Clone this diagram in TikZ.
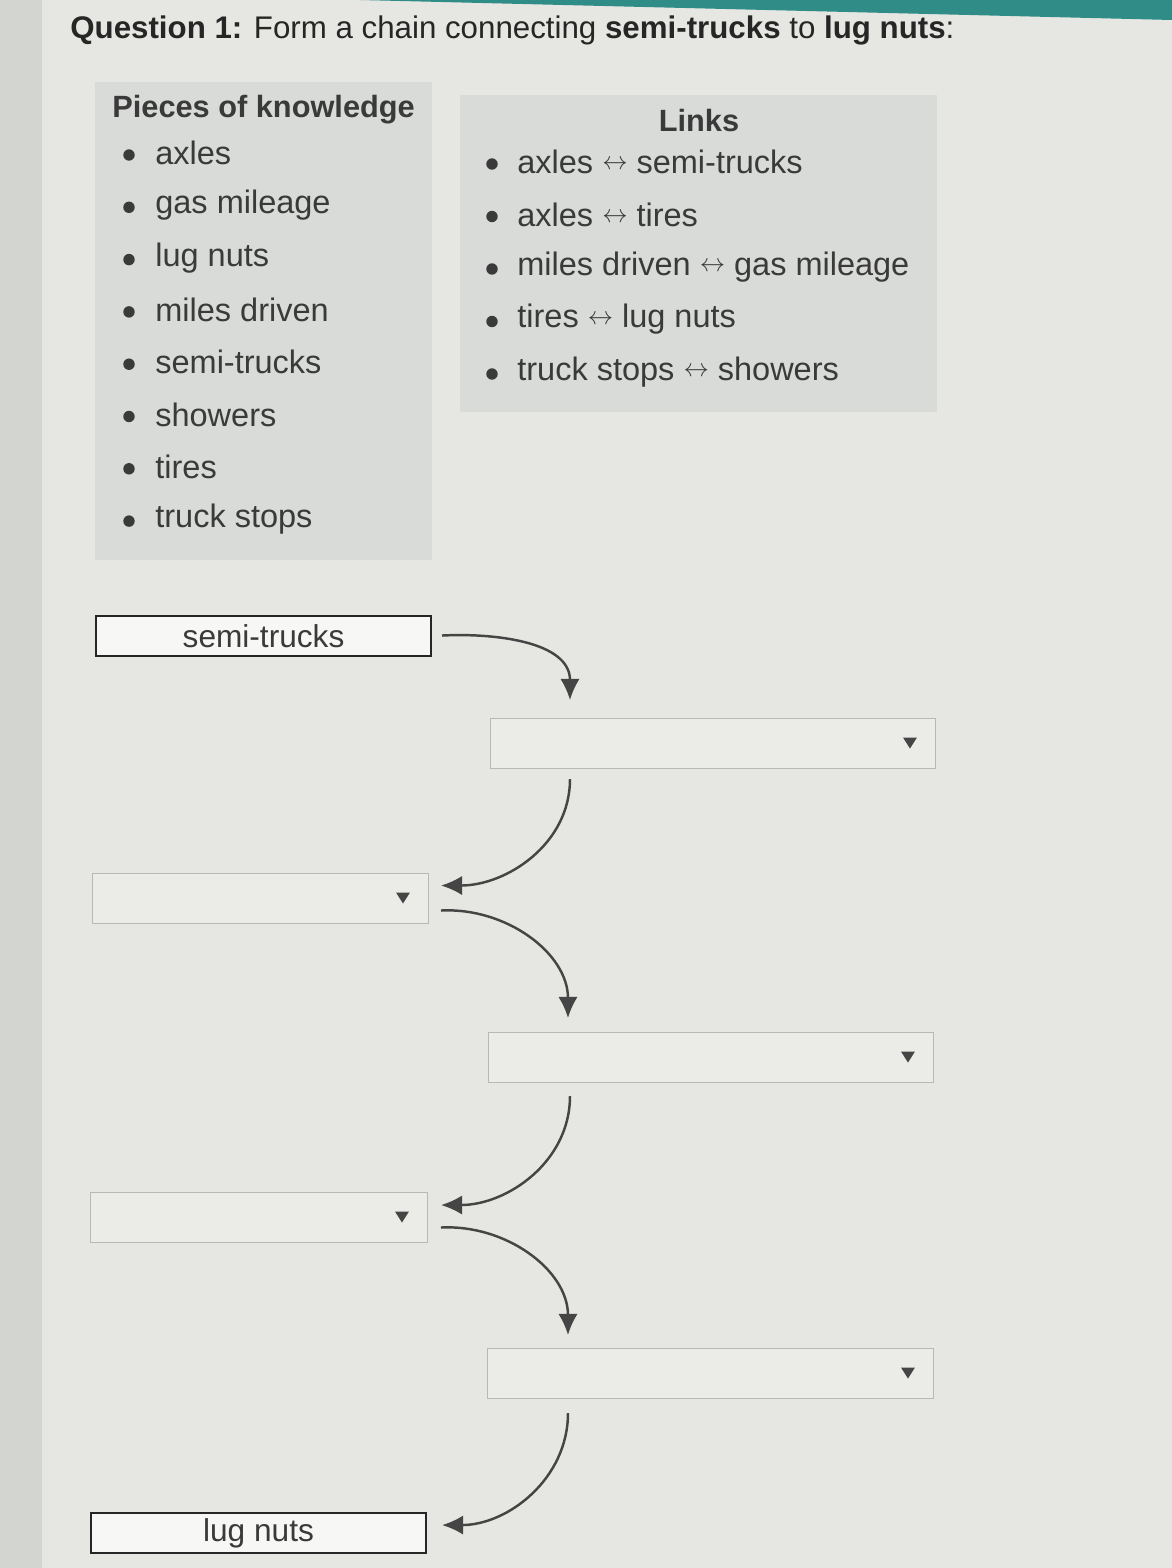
\documentclass[tikz,border=0pt]{standalone}
\usepackage{fontspec}
\setmainfont{Liberation Sans}
\usetikzlibrary{arrows.meta}

\definecolor{screen}{HTML}{E6E7E2}
\definecolor{bezel}{HTML}{D3D5D1}
\definecolor{panelgray}{HTML}{D8DBD7}
\definecolor{boxgray}{HTML}{EBECE8}
\definecolor{textgray}{HTML}{3A3A3A}
\definecolor{arrowgray}{HTML}{454545}
\definecolor{teal}{HTML}{2F8C86}

\newcommand{\lr}{\raisebox{0.12em}{\fontsize{15}{15}\selectfont$\leftrightarrow$}}

\tikzset{
	panel/.style={fill=panelgray, draw=none},
	heading/.style={font=\fontsize{17.5}{20}\selectfont\bfseries, text=textgray},
	item/.style={anchor=west, inner sep=0pt, font=\fontsize{18.5}{22}\selectfont, text=textgray},
	dot/.style={circle, fill=textgray, inner sep=0pt, minimum size=6.5pt},
	given/.style={draw=black!85, line width=1.2pt, fill=white!60!boxgray, anchor=north west,
		minimum width=6.7cm, minimum height=0.8cm, inner sep=0pt,
		font=\fontsize{18}{20}\selectfont, text=textgray},
	dropbox/.style={draw=black!28, line width=0.6pt, fill=boxgray, anchor=north west,
		minimum height=1cm, inner sep=0pt},
	linkarrow/.style={draw=arrowgray, line width=1.4pt, -{Latex[length=12pt,width=11pt]}},
}

\begin{document}
\begin{tikzpicture}[x=0.02cm, y=-0.02cm]
	
	% Screen background
	\fill[screen] (0,0) rectangle (1172,1568);
	\fill[bezel] (0,0) rectangle (42,1568);
	\fill[teal] (360,0) -- (1172,0) -- (1172,20) -- cycle;
	\useasboundingbox (0,0) rectangle (1172,1568);
	
	% Question
	\node[anchor=west, inner sep=0pt, font=\fontsize{17.8}{20}\selectfont, text=black!85] (question) at (70,30)
		{\textbf{Question 1:} Form a chain connecting \textbf{semi-trucks} to \textbf{lug nuts}:};
	
	% Pieces of knowledge
	\fill[panel] (95,82) rectangle (432,560);
	\node[heading, anchor=west, inner sep=0pt] (pieces) at (112,110) {Pieces of knowledge};
	\foreach \word [count=\i from 0] in {axles, gas mileage, lug nuts, miles driven,
		semi-trucks, showers, tires, truck stops} {
		\node[dot] (pdot\i) at (129,155 + \i * 52.3) {};
		\node[item] (piece\i) at (155,153 + \i * 52.3) {\word};
	}
	
	% Links
	\fill[panel] (460,95) rectangle (937,412);
	\node[heading] (links) at (699,121) {Links};
	\foreach \pair [count=\i from 0] in {axles \lr{} semi-trucks,
		axles \lr{} tires,
		miles driven \lr{} gas mileage,
		tires \lr{} lug nuts,
		truck stops \lr{} showers} {
		\node[dot] (ldot\i) at (492,164 + \i * 52.5) {};
		\node[item] (link\i) at (517,162 + \i * 52.5) {\pair};
	}
	
	% Chain boxes
	\node[given] (semi) at (95,615) {semi-trucks};
	\node[dropbox, minimum width=8.9cm] (drop1) at (490,718) {};
	\node[dropbox, minimum width=6.72cm] (drop2) at (92,873) {};
	\node[dropbox, minimum width=8.9cm] (drop3) at (488,1032) {};
	\node[dropbox, minimum width=6.74cm] (drop4) at (90,1192) {};
	\node[dropbox, minimum width=8.92cm] (drop5) at (487,1348) {};
	\node[given] (lug) at (90,1512) {lug nuts};
	
	% Dropdown markers
	\foreach \d in {drop1, drop2, drop3, drop4, drop5} {
		\fill[arrowgray] ([xshift=-0.66cm, yshift=0.12cm]\d.east) -- ++(0.28cm,0)
			-- ++(-0.14cm,-0.22cm) -- cycle;
	}
	
	% Arrows
	\draw[linkarrow, shorten <=0.2cm] (semi.east) to[out=3, in=90] ([xshift=1.6cm, yshift=0.36cm]drop1.north west);
	\draw[linkarrow] ([xshift=1.6cm, yshift=-0.2cm]drop1.south west) to[out=-90, in=0] ([xshift=0.24cm, yshift=0.26cm]drop2.east);
	\draw[linkarrow] ([xshift=0.24cm, yshift=-0.24cm]drop2.east) to[out=3, in=90] ([xshift=1.6cm, yshift=0.28cm]drop3.north west);
	\draw[linkarrow] ([xshift=1.64cm, yshift=-0.26cm]drop3.south west) to[out=-90, in=0] ([xshift=0.26cm, yshift=0.25cm]drop4.east);
	\draw[linkarrow] ([xshift=0.26cm, yshift=-0.2cm]drop4.east) to[out=3, in=90] ([xshift=1.62cm, yshift=0.26cm]drop5.north west);
	\draw[linkarrow] ([xshift=1.62cm, yshift=-0.28cm]drop5.south west) to[out=-90, in=0] ([xshift=0.3cm, yshift=0.16cm]lug.east);
	
\end{tikzpicture}
\end{document}
